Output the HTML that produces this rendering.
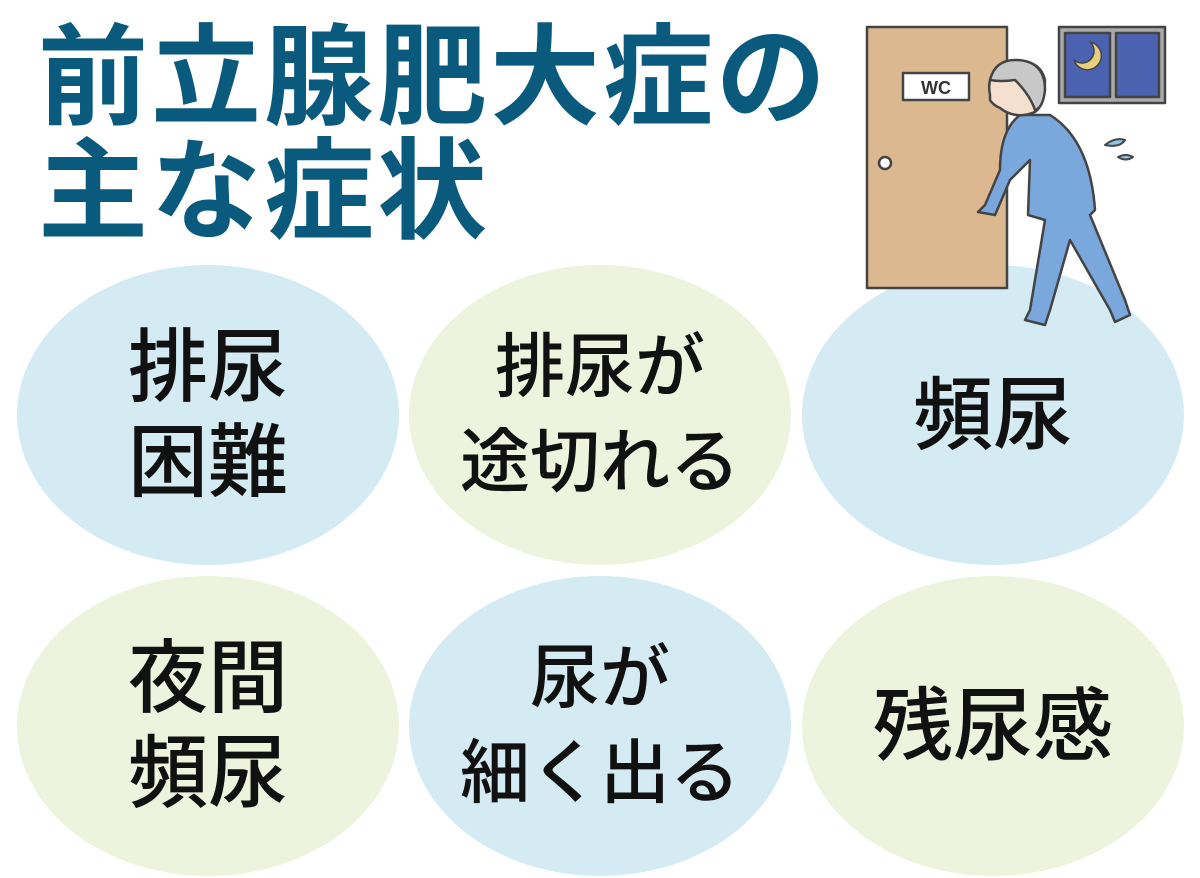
<!DOCTYPE html>
<html><head><meta charset="utf-8"><style>
html,body{margin:0;padding:0;background:#fff;}
body{width:1200px;height:878px;position:relative;overflow:hidden;font-family:"Liberation Sans","Noto Sans CJK JP",sans-serif;}
.t{position:absolute;left:38px;color:#0a5a7e;font-size:110px;font-weight:700;line-height:110px;letter-spacing:3px;white-space:nowrap;}
.e{position:absolute;width:382px;height:300px;border-radius:50%;display:flex;align-items:center;justify-content:center;text-align:center;font-size:80px;font-weight:500;line-height:95px;color:#111;}
.m{font-size:70px;}
.b{background:#d4ebf3}.g{background:#eef3de}
</style></head><body>
<div class="e b" style="left:17px;top:265px">排尿<br>困難</div>
<div class="e g m" style="left:409px;top:265px">排尿が<br>途切れる</div>
<div class="e b" style="left:802px;top:265px">頻尿</div>
<div class="e g" style="left:17px;top:576px">夜間<br>頻尿</div>
<div class="e b m" style="left:409px;top:576px">尿が<br>細く出る</div>
<div class="e g" style="left:802px;top:576px">残尿感</div>
<div class="t" style="top:24px">前立腺肥大症の</div>
<div class="t" style="top:138px">主な症状</div>
<svg style="position:absolute;left:0;top:0" width="1200" height="878">
<g stroke="#444" stroke-width="2.5" stroke-linejoin="round" stroke-linecap="round">
<rect x="867" y="27" width="140" height="261" fill="#dcb890"/>
<rect x="903" y="73" width="66" height="27" fill="#fff"/>
<circle cx="885" cy="163" r="6" fill="#fff"/>
<rect x="1059" y="27" width="106" height="76" fill="#aaa"/>
<rect x="1065" y="33" width="45" height="64" fill="#4a62b0"/>
<rect x="1116" y="33" width="43" height="64" fill="#4a62b0"/>
<path d="M1090 42 A14 14 0 1 1 1074 60 A12 12 0 0 0 1090 42Z" fill="#e8cf80" stroke-width="1.5"/>
<path d="M1020 115 Q1000 130 1000 170 L985 205 L978 212 L995 215 L1010 180 L1030 160 L1028 215 L1045 220 L1030 310 L1025 320 L1045 325 L1050 310 L1070 240 L1110 310 L1115 322 L1130 315 L1125 300 L1090 215 L1095 210 Q1090 140 1050 115Z" fill="#7aa8dc"/>
<path d="M990 95 Q985 70 1010 62 Q1040 58 1045 80 Q1045 105 1035 112 Q1015 120 1000 108 Q993 105 990 100Z" fill="#f5e0d0"/>
<path d="M990 80 Q995 60 1015 60 Q1045 60 1045 90 Q1043 108 1035 110 Q1030 95 1015 80 Q1000 82 990 80Z" fill="#c8c8c8"/>
<path d="M1105 145 q10 -8 20 -5 q-5 8 -20 5z M1118 157 q8 -4 15 0 q-7 5 -15 0z" fill="#8cc6ea" stroke-width="2"/>
</g>
<text x="936" y="94" font-family="Liberation Sans" font-size="18" font-weight="bold" text-anchor="middle" fill="#333">WC</text>
</svg>
</body></html>
